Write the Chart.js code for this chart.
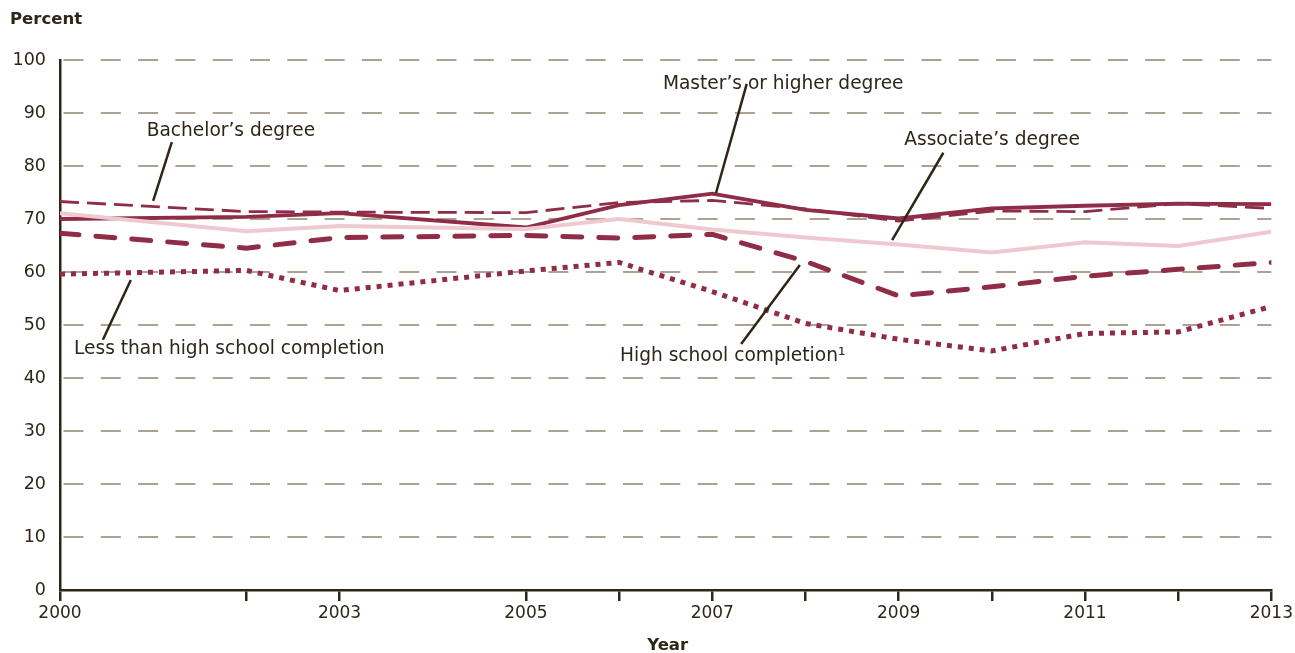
<!DOCTYPE html>
<html>
<head>
<meta charset="utf-8">
<script src="https://cdn.jsdelivr.net/npm/chart.js@4"></script>
<style>
  html, body { margin: 0; padding: 0; background: #ffffff; }
  #wrap { width: 1295px; height: 653px; position: relative; }
</style>
</head>
<body>
<div id="wrap"><canvas id="c" width="1295" height="653"></canvas></div>
<script>
// ---- Data ----
const years = [2000, 2002, 2003, 2005, 2006, 2007, 2008, 2009, 2010, 2011, 2012, 2013];
const labeledYears = [2000, 2003, 2005, 2007, 2009, 2011, 2013];
const yTicks = [0, 10, 20, 30, 40, 50, 60, 70, 80, 90, 100];

const masters     = [70.0, 70.4, 71.1, 68.4, 72.6, 74.8, 71.7, 70.1, 72.0, 72.5, 72.9, 72.8];
const bachelors   = [73.3, 71.4, 71.3, 71.2, 73.1, 73.5, 71.9, 69.6, 71.5, 71.4, 72.9, 72.0];
const associates  = [71.1, 67.7, 68.7, 68.1, 70.0, 68.0, 66.5, 65.2, 63.7, 65.6, 64.9, 67.6];
const highSchool  = [67.3, 64.5, 66.5, 66.9, 66.4, 67.1, 62.0, 55.5, 57.2, 59.2, 60.5, 61.8];
const lessThanHS  = [59.6, 60.3, 56.5, 60.2, 61.8, 56.3, 50.3, 47.3, 45.1, 48.4, 48.7, 53.5];

// Callout labels (text, anchor in data units, leader line in data units)
const callouts = [
  { text: "Bachelor\u2019s degree", tx: 2000.93, ty: 86.5, line: [2001.2, 84.5, 2001.0, 73.4] },
  { text: "Master\u2019s or higher degree", tx: 2006.47, ty: 95.4, line: [2007.37, 95.5, 2007.04, 74.9] },
  { text: "Associate\u2019s degree", tx: 2009.06, ty: 84.8, line: [2009.48, 82.5, 2008.93, 66.0] },
  { text: "High school completion\u00B9", tx: 2006.01, ty: 44.2, line: [2007.31, 46.4, 2007.94, 61.3] },
  { text: "Less than high school completion", tx: 2000.15, ty: 45.5, line: [2000.46, 47.2, 2000.76, 58.5] }
];

const DARK = '#8f2d48';
const PINK = '#eecad0';
const INK = '#2e2617';
const GRID = '#aba38f';
const FONT = '"DejaVu Sans", sans-serif';

function pts(arr) { return years.map((y, i) => ({ x: y, y: arr[i] })); }

const annotationPlugin = {
  id: 'callouts',
  afterDatasetsDraw(chart) {
    const ctx = chart.ctx;
    const xs = chart.scales.x, ys = chart.scales.y;
    ctx.save();
    ctx.strokeStyle = INK;
    ctx.lineWidth = 2.5;
    ctx.lineCap = 'butt';
    ctx.fillStyle = INK;
    ctx.font = '18.6px ' + FONT;
    ctx.textBaseline = 'middle';
    ctx.textAlign = 'left';
    callouts.forEach(c => {
      ctx.beginPath();
      ctx.moveTo(xs.getPixelForValue(c.line[0]), ys.getPixelForValue(c.line[1]));
      ctx.lineTo(xs.getPixelForValue(c.line[2]), ys.getPixelForValue(c.line[3]));
      ctx.stroke();
      ctx.fillText(c.text, xs.getPixelForValue(c.tx), ys.getPixelForValue(c.ty));
    });
    // Titles
    ctx.font = 'bold 16.5px ' + FONT;
    ctx.textAlign = 'left';
    ctx.fillText('Percent', 10, 20);
    ctx.textAlign = 'center';
    ctx.fillText('Year', (chart.chartArea.left + chart.chartArea.right) / 2 + 2, 646);
    ctx.restore();
  }
};

const ctx = document.getElementById('c').getContext('2d');
new Chart(ctx, {
  type: 'line',
  data: {
    datasets: [
      { label: "Associate's degree", data: pts(associates), borderColor: PINK, borderWidth: 4, pointRadius: 0, tension: 0, fill: false },
      { label: "Less than high school completion", data: pts(lessThanHS), borderColor: DARK, borderWidth: 5, borderDash: [5, 6], borderCapStyle: 'butt', pointRadius: 0, tension: 0, fill: false },
      { label: "High school completion", data: pts(highSchool), borderColor: DARK, borderWidth: 5, borderDash: [19, 17], borderCapStyle: 'round', pointRadius: 0, tension: 0, fill: false },
      { label: "Bachelor's degree", data: pts(bachelors), borderColor: DARK, borderWidth: 2.8, borderDash: [19, 8], borderCapStyle: 'butt', pointRadius: 0, tension: 0, fill: false },
      { label: "Master's or higher degree", data: pts(masters), borderColor: DARK, borderWidth: 3.8, pointRadius: 0, tension: 0, fill: false }
    ]
  },
  options: {
    responsive: false,
    animation: false,
    layout: { padding: { top: 60, right: 23, left: 0, bottom: 0 } },
    plugins: { legend: { display: false }, tooltip: { enabled: false }, title: { display: false } },
    scales: {
      x: {
        type: 'linear',
        min: 2000, max: 2013,
        afterBuildTicks: (s) => { s.ticks = years.map(v => ({ value: v })); },
        afterFit: (s) => { s.height = 63; },
        ticks: {
          autoSkip: false, maxRotation: 0, padding: 2,
          color: INK, font: { family: FONT, size: 17 },
          callback: (v) => labeledYears.includes(v) ? String(v) : ''
        },
        grid: { drawOnChartArea: false, drawTicks: true, tickLength: 11, tickColor: INK, lineWidth: 2.5, color: INK },
        border: { display: true, color: INK, width: 2.5 }
      },
      y: {
        min: 0, max: 100,
        afterBuildTicks: (s) => { s.ticks = yTicks.map(v => ({ value: v })); },
        afterFit: (s) => { s.width = 60; },
        ticks: { padding: 14, color: INK, font: { family: FONT, size: 17.5 } },
        grid: {
          drawTicks: false,
          color: (c) => (c.tick && c.tick.value === 0) ? 'rgba(0,0,0,0)' : GRID,
          lineWidth: 2
        },
        border: { display: true, color: INK, width: 2.5, dash: [20, 17.3], dashOffset: -2 }
      }
    }
  },
  plugins: [annotationPlugin]
});
</script>
</body>
</html>
